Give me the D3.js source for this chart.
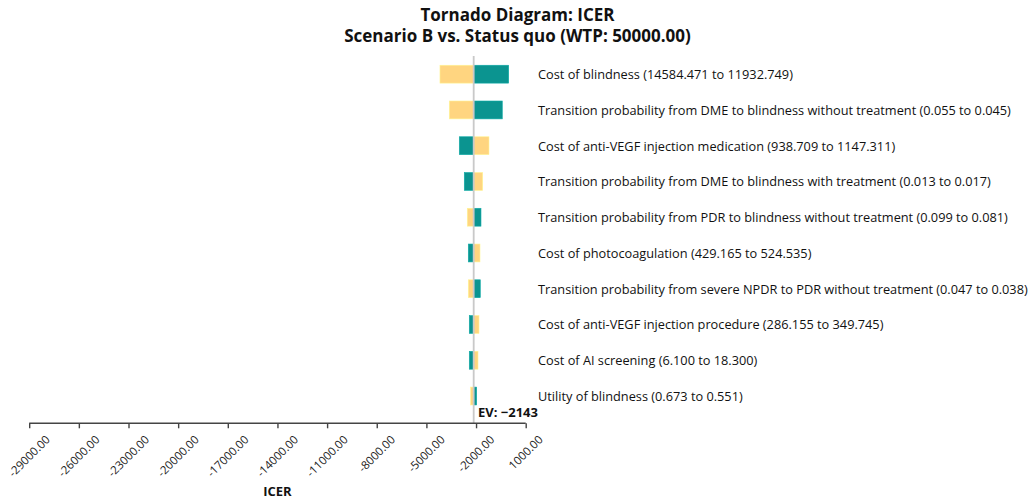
<!DOCTYPE html>
<html><head><meta charset="utf-8">
<script src="https://cdn.jsdelivr.net/npm/d3@7"></script>
<style>
html,body{margin:0;padding:0;background:#fff;}
svg{display:block;}
</style></head>
<body>
<script>
const parameters = [
  "Cost of blindness (14584.471 to 11932.749)",
  "Transition probability from DME to blindness without treatment (0.055 to 0.045)",
  "Cost of anti-VEGF injection medication (938.709 to 1147.311)",
  "Transition probability from DME to blindness with treatment (0.013 to 0.017)",
  "Transition probability from PDR to blindness without treatment (0.099 to 0.081)",
  "Cost of photocoagulation (429.165 to 524.535)",
  "Transition probability from severe NPDR to PDR without treatment (0.047 to 0.038)",
  "Cost of anti-VEGF injection procedure (286.155 to 349.745)",
  "Cost of AI screening (6.100 to 18.300)",
  "Utility of blindness (0.673 to 0.551)"
];
// ICER at the first listed parameter value (yellow) and the second (teal)
const icerFirst  = [-4180, -3617, -1219, -1599, -2530, -1762, -2469, -1823, -1883, -2324];
const icerSecond = [  -28,  -415, -3013, -2711, -1702, -2469, -1744, -2409, -2409, -1962];
const expectedValue = -2143;
const tickValues = [-29000, -26000, -23000, -20000, -17000, -14000, -11000, -8000, -5000, -2000, 1000];
const titleLines = ["Tornado Diagram: ICER", "Scenario B vs. Status quo (WTP: 50000.00)"];
const axisTitle = "ICER";

const W = 1031, H = 499;
const colorFirst = "#FFD580", colorSecond = "#0B9490";
const FONT = "'Open Sans', 'DejaVu Sans', sans-serif";
const svg = d3.select("body").append("svg").attr("width", W).attr("height", H);

const x = d3.scaleLinear().domain([-29000, 1000]).range([29.2, 525.7]);
const y = d3.scaleBand().domain(d3.range(parameters.length)).range([56.3, 413.9])
  .paddingInner(0.5).paddingOuter(0.25);

// title
const title = svg.append("g").attr("font-family", FONT)
  .attr("font-weight", "bold").attr("font-size", 17).attr("fill", "#111").attr("text-anchor", "middle");
title.selectAll("text").data(titleLines).join("text")
  .attr("x", 517.5).attr("y", (d, i) => 21 + i * 21).text(d => d);

// bars
const rows = svg.append("g").selectAll("g").data(parameters.map((p, i) => ({p, i})))
  .join("g");
function bar(sel, vals, col) {
  sel.append("rect")
    .attr("x", d => Math.min(x(vals[d.i]), x(expectedValue)))
    .attr("width", d => Math.abs(x(vals[d.i]) - x(expectedValue)))
    .attr("y", d => y(d.i)).attr("height", y.bandwidth())
    .attr("fill", col).attr("stroke", d3.color(col).brighter(0.4)).attr("stroke-width", 0.6);
}
bar(rows, icerFirst, colorFirst);
bar(rows, icerSecond, colorSecond);

// EV line
svg.append("line").attr("x1", x(expectedValue)).attr("x2", x(expectedValue))
  .attr("y1", 56).attr("y2", 423).attr("stroke", "#c9c9c9").attr("stroke-width", 1.8);

// labels
const labels = svg.append("g").attr("font-family", FONT).attr("fill", "#111");
const lab = labels.selectAll("text").data(parameters).join("text")
  .attr("x", 538).attr("y", (d, i) => y(i) + y.bandwidth() / 2).attr("dy", "0.38em")
  .attr("font-size", 13).text(d => d);
let maxLen = 0;
lab.each(function(){ maxLen = Math.max(maxLen, this.getComputedTextLength()); });
lab.attr("font-size", 13 * 490 / maxLen);

// EV label
svg.append("text").attr("x", 478).attr("y", 417)
  .attr("font-family", FONT)
  .attr("font-weight", "bold").attr("font-size", 13).attr("fill", "#111")
  .text("EV: \u2212" + Math.abs(expectedValue));

// axis
const axisY = 423.3;
const ax = svg.append("g").attr("transform", `translate(0,${axisY})`)
  .call(d3.axisBottom(x).tickValues(tickValues).tickSize(5).tickFormat(() => ""));
ax.select(".domain").attr("stroke", "#444").attr("stroke-width", 1.4).attr("d", `M${x(-29000)},0H${x(1000)}`);
ax.selectAll(".tick line").attr("stroke", "#444").attr("stroke-width", 1.4);

const fmt = v => d3.format(".2f")(v).replace("\u2212", "-");
const tl = svg.append("g").attr("font-family", FONT)
  .attr("font-size", 11.5).attr("fill", "#222");
tickValues.forEach(v => {
  const t = tl.append("text").attr("text-anchor", "middle").text(fmt(v));
  const L = t.node().getComputedTextLength();
  const h = 9;
  const half = (L + h) * Math.SQRT1_2 / 2;
  const cx = x(v), cy = axisY + 11 + half;
  t.attr("x", cx).attr("y", cy).attr("dy", "0.35em")
   .attr("transform", `rotate(-45,${cx},${cy})`);
});

svg.append("text").attr("x", (x(-29000) + x(1000)) / 2).attr("y", 496)
  .attr("text-anchor", "middle").attr("font-family", FONT)
  .attr("font-weight", "bold").attr("font-size", 13).attr("fill", "#111").text(axisTitle);
</script>
</body></html>
